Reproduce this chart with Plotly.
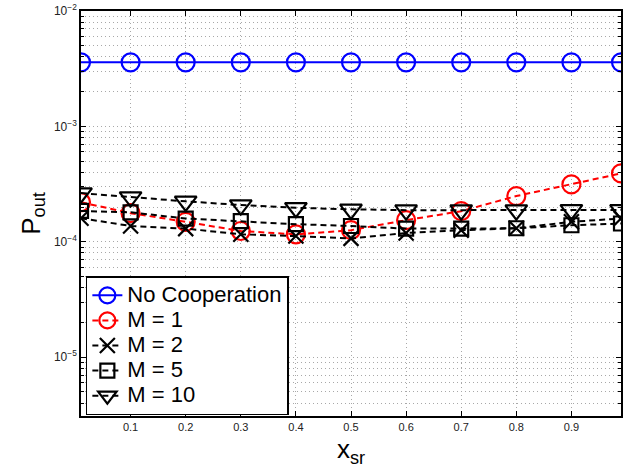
import plotly.graph_objects as go

x_sr = [0.01, 0.1, 0.2, 0.3, 0.4, 0.5, 0.6, 0.7, 0.8, 0.9, 0.99]
no_coop = [3.59e-3] * 11
m1 = [2.20e-4, 1.77e-4, 1.49e-4, 1.24e-4, 1.16e-4, 1.26e-4, 1.54e-4, 1.84e-4, 2.49e-4, 3.14e-4, 3.91e-4]
m2 = [1.60e-4, 1.37e-4, 1.30e-4, 1.16e-4, 1.12e-4, 1.07e-4, 1.19e-4, 1.26e-4, 1.31e-4, 1.49e-4, 1.59e-4]
m5 = [1.85e-4, 1.80e-4, 1.59e-4, 1.51e-4, 1.42e-4, 1.37e-4, 1.30e-4, 1.30e-4, 1.31e-4, 1.39e-4, 1.44e-4]
m10 = [2.64e-4, 2.44e-4, 2.24e-4, 2.08e-4, 1.97e-4, 1.91e-4, 1.88e-4, 1.88e-4, 1.88e-4, 1.89e-4, 1.89e-4]

series_names = ["No Cooperation", "M = 1", "M = 2", "M = 5", "M = 10"]
x_ticks = [0.1, 0.2, 0.3, 0.4, 0.5, 0.6, 0.7, 0.8, 0.9]
y_tickvals = [1e-5, 1e-4, 1e-3, 1e-2]
y_ticktext = ["10<sup>\u22125</sup>", "10<sup>\u22124</sup>", "10<sup>\u22123</sup>", "10<sup>\u22122</sup>"]

FONT = "Liberation Sans, Arial, sans-serif"
DASH = "6px,4px"
GRID = "#a8a8a8"
GRIDDASH = "1px,3px"


def lname(s):
    return f"<span style='font-size:22px'>{s}</span>"


fig = go.Figure()
fig.add_trace(go.Scatter(
    x=x_sr, y=no_coop, name=lname(series_names[0]), mode="lines+markers",
    line=dict(color="#0000ff", width=2),
    marker=dict(symbol="circle-open", size=18, color="#0000ff", line=dict(width=2.2, color="#0000ff")),
))
fig.add_trace(go.Scatter(
    x=x_sr, y=m1, name=lname(series_names[1]), mode="lines+markers",
    line=dict(color="#ff0000", width=2, dash=DASH),
    marker=dict(symbol="circle-open", size=18, color="#ff0000", line=dict(width=2.2, color="#ff0000")),
))
fig.add_trace(go.Scatter(
    x=x_sr, y=m2, name=lname(series_names[2]), mode="lines+markers",
    line=dict(color="#000000", width=2, dash=DASH),
    marker=dict(symbol="x-thin-open", size=15, color="#000000", line=dict(width=2.2, color="#000000")),
))
fig.add_trace(go.Scatter(
    x=x_sr, y=m5, name=lname(series_names[3]), mode="lines+markers",
    line=dict(color="#000000", width=2, dash=DASH),
    marker=dict(symbol="square-open", size=14, color="#000000", line=dict(width=2.2, color="#000000")),
))
fig.add_trace(go.Scatter(
    x=x_sr, y=m10, name=lname(series_names[4]), mode="lines+markers",
    line=dict(color="#000000", width=2, dash=DASH),
    marker=dict(symbol="triangle-down-open", size=19, color="#000000", line=dict(width=2.2, color="#000000")),
))

fig.update_layout(
    width=634, height=470,
    margin=dict(l=81, r=13, t=11, b=54),
    paper_bgcolor="white", plot_bgcolor="white",
    font=dict(family=FONT, color="black"),
    showlegend=True,
    legend=dict(
        x=0.009, y=0.345, xanchor="left", yanchor="top",
        bgcolor="white", bordercolor="black", borderwidth=1.5,
        font=dict(size=17, family=FONT, color="black"),
        tracegroupgap=0,
    ),
)

fig.update_xaxes(
    range=[0.01, 0.99], automargin=False,
    tickvals=x_ticks, ticktext=[f"{v:.1f}" for v in x_ticks],
    tickfont=dict(size=11, color="#222"),
    ticks="inside", ticklen=5, tickcolor="black",
    showline=True, linecolor="black", linewidth=1.5, mirror="ticks",
    showgrid=True, gridcolor=GRID, griddash=GRIDDASH, gridwidth=1,
    zeroline=False,
    title=dict(text="x<sub>sr</sub>", font=dict(size=26, family=FONT), standoff=8),
)

fig.update_yaxes(
    type="log", range=[-5.51, -2], automargin=False,
    tickvals=y_tickvals, ticktext=y_ticktext,
    tickfont=dict(size=12, color="#222"),
    ticks="inside", ticklen=5, tickcolor="black",
    showline=True, linecolor="black", linewidth=1.5, mirror="ticks",
    showgrid=True, gridcolor=GRID, griddash=GRIDDASH, gridwidth=1,
    zeroline=False,
    minor=dict(ticks="inside", ticklen=3, tickcolor="black", dtick="D1",
               showgrid=True, gridcolor=GRID, griddash=GRIDDASH, gridwidth=1),
    title=dict(text="P<sub>out</sub>", font=dict(size=26, family=FONT), standoff=6),
)

fig.write_html("out.html")
